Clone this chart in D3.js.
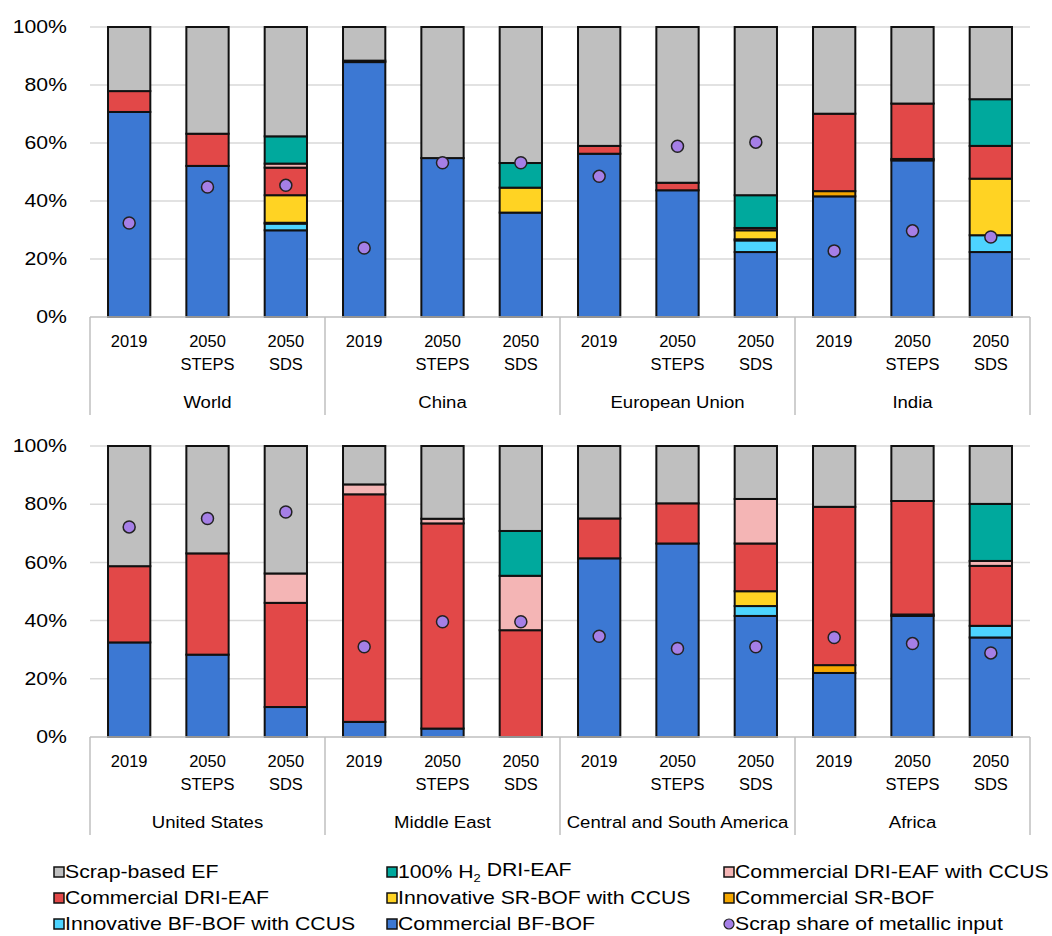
<!DOCTYPE html>
<html>
<head>
<meta charset="utf-8">
<script src="https://cdn.jsdelivr.net/npm/d3@7"></script>
<style>
  body { margin: 0; background: #fff; }
  text { font-family: "Liberation Sans", Arial, sans-serif; fill: #000; }
</style>
</head>
<body>
<svg id="chart" width="1052" height="936"></svg>
<script>
// categories
var regionsTop = ["World", "China", "European Union", "India"];
var regionsBottom = ["United States", "Middle East", "Central and South America", "Africa"];
var scenarios = ["2019", "2050 STEPS", "2050 SDS"];
var tickValues = [0, 20, 40, 60, 80, 100];

// series values (%), order: World..India, then United States..Africa, 3 scenarios each
var commercialBF   = [70.7, 52.1, 29.9, 87.9, 54.8, 36.0, 56.3, 43.7, 22.4, 41.6, 54.0, 22.4,
                      32.5, 28.3, 10.3, 5.2, 2.9, 0, 61.4, 66.5, 41.6, 22.0, 41.6, 34.2];
var innovativeBF   = [0, 0, 2.3, 0, 0, 0, 0, 0, 4.0, 0, 0, 5.8,
                      0, 0, 0, 0, 0, 0, 0, 0, 3.4, 0, 0, 4.0];
var commercialSR   = [0, 0, 0.3, 0, 0, 0, 0, 0, 0.4, 1.8, 0.5, 0,
                      0, 0, 0, 0, 0, 0, 0, 0, 0, 2.7, 0.5, 0];
var innovativeSR   = [0, 0, 9.5, 0, 0, 8.6, 0, 0, 3.1, 0, 0, 19.5,
                      0, 0, 0, 0, 0, 0, 0, 0, 5.1, 0, 0, 0];
var commercialDRI  = [7.2, 11.1, 9.5, 0.5, 0, 0, 2.7, 2.6, 0.8, 26.7, 19.1, 11.3,
                      26.2, 34.8, 35.8, 78.2, 70.5, 36.7, 13.7, 13.8, 16.4, 54.4, 39.0, 20.6];
var driCCUS        = [0, 0, 1.4, 0, 0, 0, 0, 0, 0, 0, 0, 0,
                      0, 0, 10.1, 3.4, 1.6, 18.7, 0, 0, 15.3, 0, 0, 1.7];
var h2DRI          = [0, 0, 9.4, 0, 0, 8.5, 0, 0, 11.3, 0, 0, 16.1,
                      0, 0, 0, 0, 0, 15.4, 0, 0, 0, 0, 0, 19.6];
var scrapEF        = [22.1, 36.8, 37.7, 11.6, 45.2, 46.9, 41.0, 53.7, 58.0, 29.9, 26.4, 24.9,
                      41.3, 36.9, 43.8, 13.2, 25.0, 29.2, 24.9, 19.7, 18.2, 20.9, 18.9, 19.9];
var scrapShare     = [32.4, 44.8, 45.4, 23.8, 53.2, 53.2, 48.5, 58.9, 60.3, 22.8, 29.7, 27.6,
                      72.2, 75.1, 77.3, 31.0, 39.6, 39.6, 34.6, 30.4, 31.0, 34.2, 32.1, 28.9];

var series = [
  {key: "Commercial BF-BOF", values: commercialBF, color: "#3C78D3"},
  {key: "Innovative BF-BOF with CCUS", values: innovativeBF, color: "#4DD4FF"},
  {key: "Commercial SR-BOF", values: commercialSR, color: "#F5A700"},
  {key: "Innovative SR-BOF with CCUS", values: innovativeSR, color: "#FFD323"},
  {key: "Commercial DRI-EAF", values: commercialDRI, color: "#E24848"},
  {key: "Commercial DRI-EAF with CCUS", values: driCCUS, color: "#F4B5B5"},
  {key: "100% H2 DRI-EAF", values: h2DRI, color: "#00A99D"},
  {key: "Scrap-based EF", values: scrapEF, color: "#BFBFBF"}
];
var dotColor = "#A57FE6";

var svg = d3.select("#chart");
var left = 90, right = 1030;

// stretched text, the source picture is a bit wider than normal Arial
function sText(g, x, y, str, size, sx, anchor) {
  return g.append("text")
    .attr("transform", "translate(" + x + "," + y + ") scale(" + sx + ",1)")
    .attr("text-anchor", anchor || "middle")
    .attr("dy", "0.35em")
    .style("font-size", size + "px")
    .text(str);
}

function drawPanel(regions, offset, yTop, yBottom) {
  var g = svg.append("g");
  var y = d3.scaleLinear().domain([0, 100]).range([yBottom, yTop]);
  var xr = d3.scaleBand().domain(regions).range([left, right]);
  var xs = d3.scaleBand().domain(scenarios).range([0, xr.bandwidth()])
    .paddingInner(0.46).paddingOuter(0.23);

  // gridlines
  g.selectAll(".grid").data(tickValues.filter(function(d) { return d > 0; }))
    .enter().append("line")
    .attr("x1", left).attr("x2", right)
    .attr("y1", function(d) { return y(d); }).attr("y2", function(d) { return y(d); })
    .attr("stroke", "#D9D9D9").attr("stroke-width", 1.5);

  // y axis labels
  var ya = g.append("g").attr("transform", "translate(67,0)")
    .call(d3.axisLeft(y).tickValues(tickValues).tickFormat(function(d) { return d + "%"; })
      .tickSize(0).tickPadding(0));
  ya.select(".domain").remove();
  ya.selectAll("text").style("font-size", "18px")
    .style("font-family", "'Liberation Sans', Arial, sans-serif")
    .attr("fill", "#000").attr("transform", "scale(1.18,1)");

  // rows for this panel
  var rows = [];
  regions.forEach(function(r, ri) {
    scenarios.forEach(function(s, si) {
      var idx = offset + ri * 3 + si;
      var row = {region: r, scenario: s, dot: scrapShare[idx]};
      series.forEach(function(se) { row[se.key] = se.values[idx]; });
      rows.push(row);
    });
  });

  var stack = d3.stack().keys(series.map(function(s) { return s.key; }));
  var layers = stack(rows);

  layers.forEach(function(layer, li) {
    g.append("g").selectAll("rect")
      .data(layer.filter(function(d) { return d[1] - d[0] > 0; }))
      .enter().append("rect")
      .attr("x", function(d) { return xr(d.data.region) + xs(d.data.scenario); })
      .attr("width", xs.bandwidth())
      .attr("y", function(d) { return y(d[1]); })
      .attr("height", function(d) { return y(d[0]) - y(d[1]); })
      .attr("fill", series[li].color)
      .attr("stroke", "#111").attr("stroke-width", 2);
  });

  // scrap share dots
  g.append("g").selectAll("circle").data(rows).enter().append("circle")
    .attr("cx", function(d) { return xr(d.region) + xs(d.scenario) + xs.bandwidth() / 2; })
    .attr("cy", function(d) { return y(d.dot); })
    .attr("r", 6)
    .attr("fill", dotColor).attr("stroke", "#222").attr("stroke-width", 1.5);

  // x axis: baseline and group separators
  g.append("line").attr("x1", left).attr("x2", right)
    .attr("y1", yBottom).attr("y2", yBottom)
    .attr("stroke", "#BFBFBF").attr("stroke-width", 1.5);
  var seps = regions.map(function(r) { return xr(r); }).concat([right]);
  g.selectAll(".sep").data(seps).enter().append("line")
    .attr("x1", function(d) { return d; }).attr("x2", function(d) { return d; })
    .attr("y1", yBottom).attr("y2", yBottom + 98)
    .attr("stroke", "#BFBFBF").attr("stroke-width", 1.5);

  regions.forEach(function(r) {
    scenarios.forEach(function(s) {
      var cx = xr(r) + xs(s) + xs.bandwidth() / 2;
      var parts = s.split(" ");
      parts.forEach(function(p, pi) {
        sText(g, cx, yBottom + 24 + pi * 23, p, 17, 0.97);
      });
    });
    sText(g, xr(r) + xr.bandwidth() / 2, yBottom + 85, r, 16, 1.16);
  });
}

drawPanel(regionsTop, 0, 27, 317);
drawPanel(regionsBottom, 12, 446, 737);

// legend
var legendItems = [
  {key: "Scrap-based EF", col: 0, row: 0},
  {key: "100% H2 DRI-EAF", col: 1, row: 0},
  {key: "Commercial DRI-EAF with CCUS", col: 2, row: 0},
  {key: "Commercial DRI-EAF", col: 0, row: 1},
  {key: "Innovative SR-BOF with CCUS", col: 1, row: 1},
  {key: "Commercial SR-BOF", col: 2, row: 1},
  {key: "Innovative BF-BOF with CCUS", col: 0, row: 2},
  {key: "Commercial BF-BOF", col: 1, row: 2},
  {key: "Scrap share of metallic input", col: 2, row: 2}
];
var colX = [54, 387, 724];
var rowY = [872, 898, 924];
var lg = svg.append("g");
legendItems.forEach(function(it) {
  var x = colX[it.col], yy = rowY[it.row];
  var se = series.find(function(s) { return s.key === it.key; });
  if (se) {
    lg.append("rect").attr("x", x).attr("y", yy - 5).attr("width", 10).attr("height", 10)
      .attr("fill", se.color).attr("stroke", "#111").attr("stroke-width", 1.5);
  } else {
    lg.append("circle").attr("cx", x + 5).attr("cy", yy).attr("r", 5)
      .attr("fill", dotColor).attr("stroke", "#222").attr("stroke-width", 1.2);
  }
  var t = lg.append("text")
    .attr("transform", "translate(" + (x + 11) + "," + yy + ") scale(1.18,1)")
    .attr("dy", "0.35em").style("font-size", "18px");
  if (it.key === "100% H2 DRI-EAF") {
    t.append("tspan").text("100% H");
    t.append("tspan").attr("dy", "0.3em").style("font-size", "11px").text("2");
    t.append("tspan").attr("dy", "-0.3em").text(" DRI-EAF");
  } else {
    t.text(it.key);
  }
});
</script>
</body>
</html>
